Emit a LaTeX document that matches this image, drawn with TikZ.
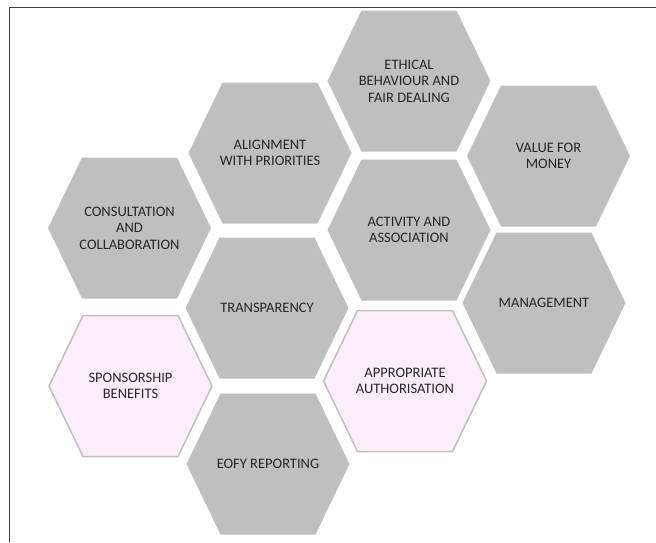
\documentclass[tikz,border=0pt]{standalone}
\usepackage{fontspec}
\setmainfont{Carlito}
\definecolor{hexgray}{RGB}{191,191,191}
\definecolor{hexpink}{RGB}{251,238,248}
\definecolor{txt}{RGB}{38,38,38}
\definecolor{frame}{RGB}{64,64,64}
\tikzset{
  graycell/.style={fill=hexgray},
  pinkcell/.style={fill=hexpink, draw=hexgray, line width=1.5pt},
  celltext/.style={text=txt, align=center, font=\fontsize{14.5}{16.5}\selectfont, inner sep=0pt}
}
\newcommand{\hexcell}[5]{%
  \begin{scope}[shift={(#2,#3)}]
    \path[#4] (-81.5,0) -- (-47.5,-70.5) -- (47.5,-70.5) -- (81.5,0) -- (47.5,70.5) -- (-47.5,70.5) -- cycle;
    \node[celltext] (#1) at (0,0) {#5};
  \end{scope}}
\begin{document}
\begin{tikzpicture}[x=1pt,y=-1pt]
\useasboundingbox (0,0) rectangle (656,542);
\coordinate (tl) at (9,7);
\coordinate (tr) at (656,7);
\coordinate (bl) at (9,542);
\draw[frame, line width=1pt] (tr) -- (tl) -- (bl);
\hexcell{ethical}{409}{81}{graycell}{ETHICAL\\BEHAVIOUR AND\\FAIR DEALING}
\hexcell{align}{270}{153}{graycell}{ALIGNMENT\\WITH PRIORITIES}
\hexcell{value}{548.5}{156}{graycell}{VALUE FOR\\MONEY}
\hexcell{consult}{129.5}{228}{graycell}{CONSULTATION\\AND\\COLLABORATION}
\hexcell{activity}{409}{230}{graycell}{ACTIVITY AND\\ASSOCIATION}
\hexcell{manage}{544}{303}{graycell}{MANAGEMENT}
\hexcell{transp}{267}{308}{graycell}{TRANSPARENCY}
\hexcell{approp}{405}{381}{pinkcell}{APPROPRIATE\\AUTHORISATION}
\hexcell{sponsor}{130.5}{386}{pinkcell}{SPONSORSHIP\\BENEFITS}
\hexcell{eofy}{268}{464}{graycell}{EOFY REPORTING}
\end{tikzpicture}
\end{document}
